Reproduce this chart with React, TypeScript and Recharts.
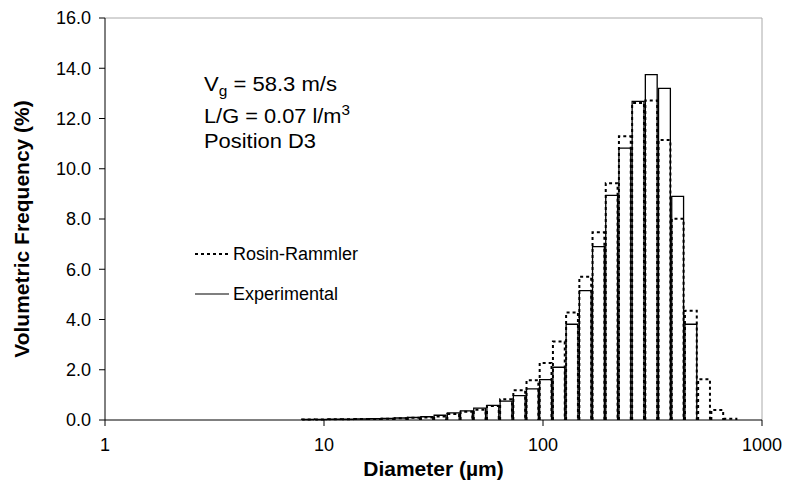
import { Bar, ComposedChart, Label, Legend, ReferenceLine, XAxis, YAxis } from "recharts";

// bin centres (µm)
const diameters = [
	8.43, 9.68, 11.12, 12.78, 14.68, 16.87, 19.38, 22.26, 25.57, 29.38, 33.76,
	38.78, 44.56, 51.19, 58.81, 67.56, 77.62, 89.17, 102.4, 117.7, 135.2, 155.4,
	178.5, 205.1, 235.6, 270.7, 311.0, 357.3, 410.5, 471.6, 541.8, 622.5, 715.1,
];
const experimental = [
	0.02, 0.02, 0.03, 0.03, 0.04, 0.05, 0.06, 0.08, 0.1, 0.13, 0.19, 0.28, 0.36,
	0.47, 0.58, 0.75, 0.97, 1.24, 1.61, 2.1, 3.81, 5.15, 6.9, 8.94, 10.82, 12.68,
	13.75, 13.2, 8.9, 3.81, 0, 0, 0,
];
const rosinRammler = [
	0.02, 0.02, 0.03, 0.03, 0.04, 0.04, 0.05, 0.07, 0.09, 0.1, 0.14, 0.24, 0.33,
	0.41, 0.56, 0.83, 1.18, 1.58, 2.27, 3.12, 4.28, 5.7, 7.47, 9.42, 11.29, 12.62,
	12.72, 11.14, 8.01, 4.35, 1.62, 0.4, 0.05,
];
const xTicks = [1, 10, 100, 1000];
const yTicks = [0, 2, 4, 6, 8, 10, 12, 14, 16];

const data = diameters.map((d, i) => ({
	d,
	exp: experimental[i],
	rr: rosinRammler[i],
}));

const font = "'Liberation Sans', Arial, sans-serif";

function Outline(props: any) {
	const { x, y, width, height, dashed } = props;
	if (!(height > 0)) return null;
	const base = y + height;
	return (
		<path
			d={`M${x},${base}V${y}H${x + width}V${base}`}
			fill={dashed ? "none" : "#fff"}
			stroke="#000"
			strokeWidth={dashed ? 2 : 1.3}
			strokeDasharray={dashed ? "3 3" : undefined}
		/>
	);
}

function LegendBox() {
	const items = [
		{ name: "Rosin-Rammler", dash: "3 3", w: 2 },
		{ name: "Experimental", dash: undefined, w: 1.2 },
	];
	return (
		<div style={{ fontFamily: font, fontSize: 18, textAlign: "left" }}>
			{items.map((it) => (
				<div
					key={it.name}
					style={{ display: "flex", alignItems: "center", height: 40 }}
				>
					<svg width={36} height={10}>
						<line
							x1={0}
							x2={34}
							y1={5}
							y2={5}
							stroke="#000"
							strokeWidth={it.w}
							strokeDasharray={it.dash}
						/>
					</svg>
					<span style={{ marginLeft: 2 }}>{it.name}</span>
				</div>
			))}
		</div>
	);
}

export default function App() {
	return (
		<div
			style={{
				position: "absolute",
				left: 0,
				top: 0,
				width: 787,
				height: 483,
				background: "#fff",
				fontFamily: font,
			}}
		>
			<ComposedChart
				width={787}
				height={483}
				data={data}
				margin={{ top: 18, right: 25, bottom: 23, left: 45 }}
			>
				<XAxis
					xAxisId="exp"
					dataKey="d"
					type="number"
					scale="log"
					domain={[1, 1000]}
					ticks={xTicks}
					allowDataOverflow
					height={40}
					tickSize={6}
					tickMargin={12}
					stroke="#000"
					tick={{ fill: "#000", fontSize: 18, fontFamily: font }}
				>
					<Label
						value="Diameter (µm)"
						position="insideBottom"
						offset={-16}
						style={{ fontWeight: "bold", fontSize: 21, fill: "#000", fontFamily: font }}
					/>
				</XAxis>
				<XAxis
					xAxisId="rr"
					dataKey="d"
					type="number"
					scale="log"
					domain={[1, 1000]}
					allowDataOverflow
					hide
				/>
				<YAxis
					domain={[0, 16]}
					ticks={yTicks}
					width={60}
					tickSize={6}
					tickMargin={8}
					stroke="#000"
					tickFormatter={(v) => Number(v).toFixed(1)}
					tick={{ fill: "#000", fontSize: 18, fontFamily: font }}
				>
					<Label
						value="Volumetric Frequency (%)"
						angle={-90}
						position="insideLeft"
						offset={-23}
						dy={10}
						style={{
							fontWeight: "bold",
							fontSize: 21,
							fill: "#000",
							fontFamily: font,
							textAnchor: "middle",
						}}
					/>
				</YAxis>
				<ReferenceLine xAxisId="exp" y={16} stroke="#aaa" />
				<ReferenceLine xAxisId="exp" x={1000} stroke="#aaa" />
				<Bar
					xAxisId="exp"
					dataKey="exp"
					name="Experimental"
					barSize={13.2}
					isAnimationActive={false}
					shape={(p: any) => <Outline {...p} />}
				/>
				<Bar
					xAxisId="rr"
					dataKey="rr"
					name="Rosin-Rammler"
					barSize={13.2}
					isAnimationActive={false}
					shape={(p: any) => <Outline {...p} dashed />}
				/>
				<Legend
					layout="horizontal"
					verticalAlign="middle"
					align="center"
					content={() => <LegendBox />}
					wrapperStyle={{ left: 195, top: 234, width: 200 }}
				/>
			</ComposedChart>
			<svg
				width={787}
				height={483}
				style={{ position: "absolute", left: 0, top: 0, pointerEvents: "none" }}
			>
				<g fontFamily={font} fontSize={20} fill="#000">
					<text x={204} y={91} textLength={133} lengthAdjust="spacingAndGlyphs">
						V<tspan dy={5} fontSize={14}>g</tspan>
						<tspan dy={-5}> = 58.3 m/s</tspan>
					</text>
					<text x={204} y={123} textLength={146} lengthAdjust="spacingAndGlyphs">
						L/G = 0.07 l/m<tspan dy={-8} fontSize={14}>3</tspan>
					</text>
					<text x={204} y={148} textLength={112} lengthAdjust="spacingAndGlyphs">
						Position D3
					</text>
				</g>
			</svg>
		</div>
	);
}
